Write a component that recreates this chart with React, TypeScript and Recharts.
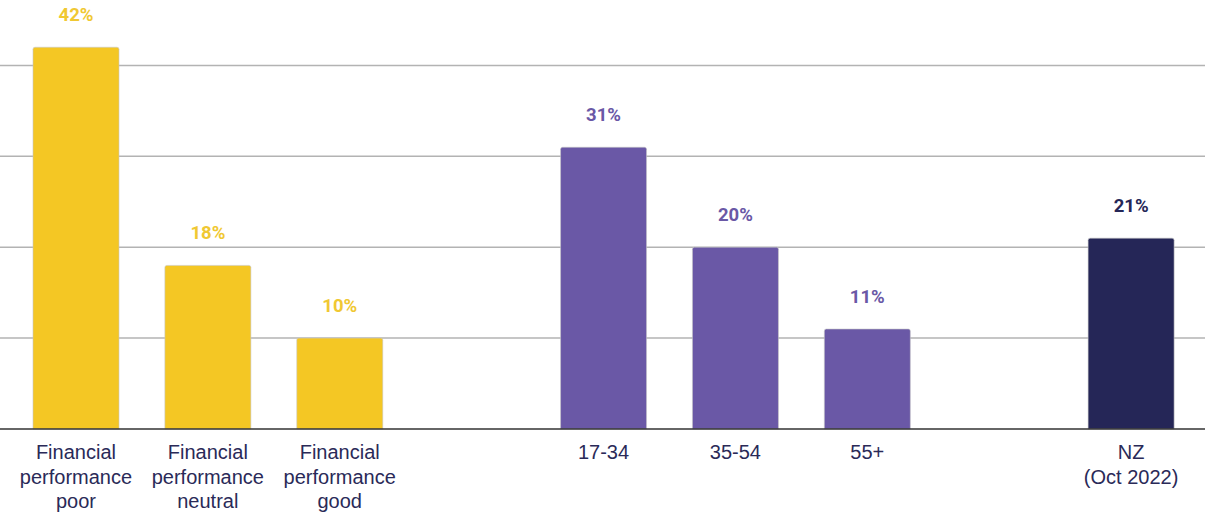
import { BarChart, Bar, XAxis, YAxis, CartesianGrid, Cell, LabelList } from "recharts";

const categories = [
  "Financial\nperformance\npoor",
  "Financial\nperformance\nneutral",
  "Financial\nperformance\ngood",
  "",
  "17-34",
  "35-54",
  "55+",
  "",
  "NZ\n(Oct 2022)",
];
const values = [42, 18, 10, null, 31, 20, 11, null, 21];
const barColors = ["#f4c724", "#f4c724", "#f4c724", "", "#6a58a6", "#6a58a6", "#6a58a6", "", "#252657"];
const labelColors = ["#f0c832", "#f0c832", "#f0c832", "", "#6a58a6", "#6a58a6", "#6a58a6", "", "#252657"];
const gridTicks = [10, 20, 30, 40];
const yMax = 47.2;

const data = categories.map((c, i) => ({ name: c, value: values[i], idx: i }));

function Tick(props: any) {
  const { x, y, payload } = props;
  const text: string = payload.value || "";
  if (!text) return null;
  const lines = text.split("\n");
  return (
    <text x={x} y={y + 14} textAnchor="middle" fill="#2a2a58" fontSize={20} fontFamily="Liberation Sans, Arial, sans-serif">
      {lines.map((l, i) => (
        <tspan key={i} x={x} dy={i === 0 ? 8 : 24.5}>
          {l}
        </tspan>
      ))}
    </text>
  );
}

// LabelList skips the empty slots, so the row index comes in through dataKey="idx"
function ValueLabel(props: any) {
  const { x, y, width, value } = props;
  const v = values[value];
  if (v == null) return null;
  return (
    <text
      x={x + width / 2}
      y={y - 26}
      textAnchor="middle"
      fill={labelColors[value]}
      fontSize={18.5}
      fontWeight={700}
      fontFamily="Roboto, sans-serif"
    >
      {v}%
    </text>
  );
}

// grid only at the tick values, not at the top edge of the plot
const gridLines = ({ offset }: any) =>
  gridTicks.map((t) => offset.top + offset.height * (1 - t / yMax));

export default function App() {
  return (
    <div style={{ position: "absolute", left: 0, top: 0, width: 1205, height: 513, background: "#fff" }}>
      <BarChart width={1205} height={513} data={data} margin={{ top: 0, right: 0, bottom: 0, left: 0 }} barSize={86}>
        <CartesianGrid vertical={false} stroke="#b3b3b3" strokeWidth={1.5} horizontalCoordinatesGenerator={gridLines} />
        <YAxis hide domain={[0, yMax]} ticks={gridTicks} />
        <XAxis
          dataKey="name"
          height={84}
          tickLine={false}
          axisLine={{ stroke: "#333", strokeWidth: 1.5 }}
          padding={{ left: 10, right: 8 }}
          tick={<Tick />}
          interval={0}
        />
        <Bar dataKey="value" isAnimationActive={false} radius={[2, 2, 0, 0]} stroke="#c8c8c8" strokeWidth={0.6}>
          {data.map((d, i) => (
            <Cell key={i} fill={barColors[i] || "transparent"} />
          ))}
          <LabelList dataKey="idx" content={<ValueLabel />} />
        </Bar>
      </BarChart>
    </div>
  );
}
